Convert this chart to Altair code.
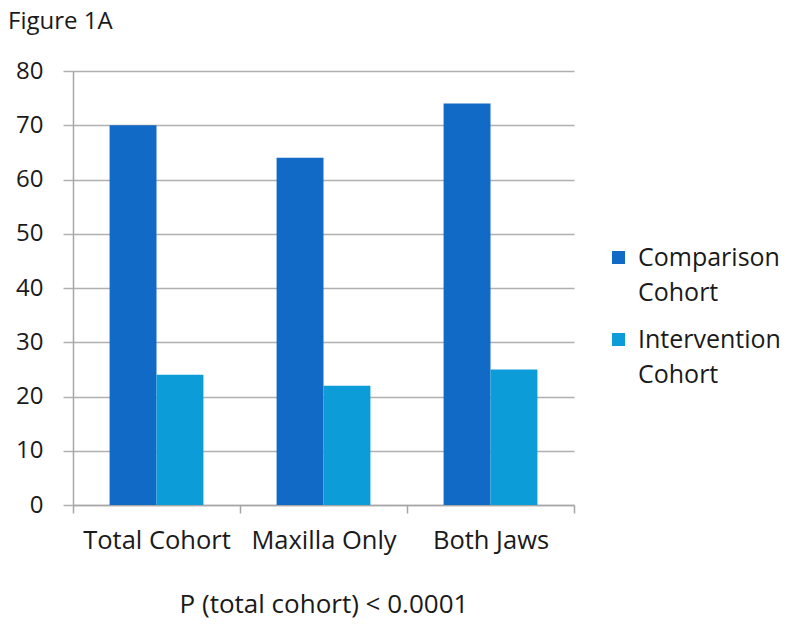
import altair as alt
import pandas as pd

categories = ["Total Cohort", "Maxilla Only", "Both Jaws"]
series = ["Comparison Cohort", "Intervention Cohort"]
comparison = [70, 64, 74]
intervention = [24, 22, 25]
colors = ["#106AC6", "#0C9CD8"]

rows = []
for c, a, b in zip(categories, comparison, intervention):
    rows.append({"group": c, "series": series[0], "value": a})
    rows.append({"group": c, "series": series[1], "value": b})
df = pd.DataFrame(rows)

FONT = "Open Sans"

chart = alt.Chart(df).mark_bar().encode(
    x=alt.X("group:N", sort=categories,
            scale=alt.Scale(paddingInner=0, paddingOuter=0),
            axis=alt.Axis(title="P (total cohort) < 0.0001", labelAngle=0,
                          tickBand="extent", grid=False, tickSize=8,
                          labelPadding=15, titlePadding=38, labelFontSize=25.5,
                          titleFontSize=26,
                          domainColor="#a6a6a6", tickColor="#a6a6a6", domainWidth=1.5, tickWidth=1.5)),
    xOffset=alt.XOffset("series:N", sort=series,
                        scale=alt.Scale(paddingInner=0, paddingOuter=0.78)),
    y=alt.Y("value:Q", scale=alt.Scale(domain=[0, 80], nice=False),
            axis=alt.Axis(title=None, values=list(range(0, 81, 10)), tickSize=10,
                          labelPadding=20, gridColor="#b0b0b0", gridWidth=1.5, labelFontSize=24,
                          domainColor="#a6a6a6", tickColor="#b0b0b0", domainWidth=1.5, tickWidth=1.5,
                          minExtent=65, maxExtent=65)),
    color=alt.Color("series:N", sort=series,
                    scale=alt.Scale(domain=series, range=colors),
                    legend=alt.Legend(title=None, orient="none", legendX=533, legendY=174,
                                      symbolType="square", symbolSize=169, symbolStrokeWidth=0,
                                      labelExpr="split(datum.label, ' ')",
                                      labelFontSize=25, labelFont=FONT, labelColor="#1a1a1a",
                                      rowPadding=21, padding=0, labelOffset=7)),
).properties(
    width=501, height=434,
    padding={"left": 0, "top": 2, "right": 0, "bottom": 6},
    title=alt.TitleParams("Figure 1A", anchor="start", frame="bounds", fontSize=24,
                          font=FONT, fontWeight="normal", color="#1a1a1a", offset=25),
).configure(
    style={"guide-label": {"lineHeight": 35}}
).configure_view(stroke=None).configure_axis(
    labelFont=FONT, labelColor="#1a1a1a",
    titleFont=FONT, titleFontWeight="normal", titleColor="#1a1a1a",
)

chart.save("out.html", embed_options={"renderer": "svg", "actions": False})
